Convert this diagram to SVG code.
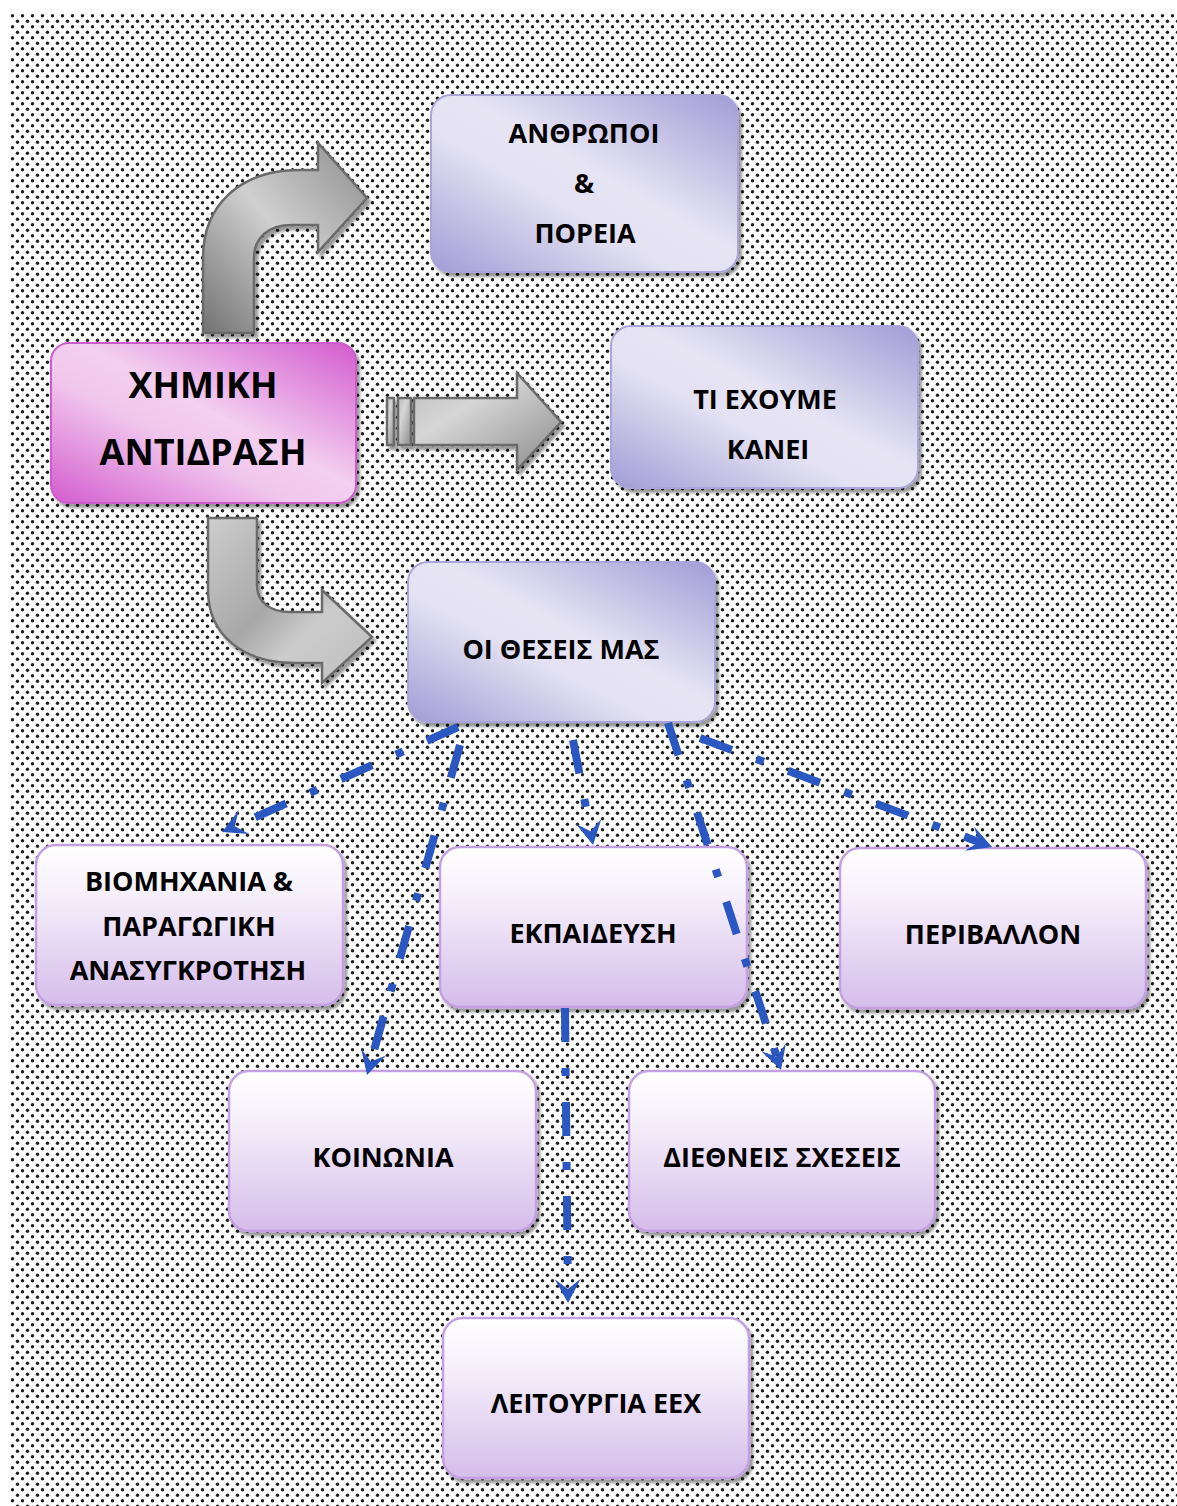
<svg xmlns="http://www.w3.org/2000/svg" width="1177" height="1506" viewBox="0 0 1177 1506">
<defs>
<pattern id="dots" x="10" y="13" width="10" height="11" patternUnits="userSpaceOnUse">
<circle cx="2.5" cy="2.75" r="1.7" fill="#1e1e1e"/>
<circle cx="7.5" cy="8.25" r="1.7" fill="#1e1e1e"/>
</pattern>
<filter id="sh" x="-10%" y="-10%" width="125%" height="130%">
<feDropShadow dx="3" dy="4" stdDeviation="1.5" flood-color="#000" flood-opacity="0.4"/>
</filter>
<linearGradient id="gPink" x1="1" y1="0" x2="0" y2="1">
<stop offset="0" stop-color="#d35bcf"/>
<stop offset="0.45" stop-color="#f3cff0"/>
<stop offset="0.6" stop-color="#f1c8ed"/>
<stop offset="1" stop-color="#d35bcf"/>
</linearGradient>
<linearGradient id="gLav" x1="1" y1="0" x2="0" y2="1">
<stop offset="0" stop-color="#a19cd6"/>
<stop offset="0.45" stop-color="#e7e5f4"/>
<stop offset="0.6" stop-color="#e3e1f2"/>
<stop offset="1" stop-color="#a19cd6"/>
</linearGradient>
<linearGradient id="gLow" x1="0" y1="0" x2="0" y2="1">
<stop offset="0" stop-color="#ffffff"/>
<stop offset="0.3" stop-color="#f6f0fb"/>
<stop offset="1" stop-color="#d5bdea"/>
</linearGradient>
<linearGradient id="gArrTop" x1="0" y1="1" x2="1" y2="0">
<stop offset="0" stop-color="#727272"/>
<stop offset="0.5" stop-color="#d0d0d0"/>
<stop offset="1" stop-color="#8c8c8c"/>
</linearGradient>
<linearGradient id="gArrMid" x1="0" y1="0" x2="1" y2="1">
<stop offset="0" stop-color="#bdbdbd"/>
<stop offset="0.35" stop-color="#d6d6d6"/>
<stop offset="1" stop-color="#8a8a8a"/>
</linearGradient>
<linearGradient id="gArrBot" x1="0" y1="0" x2="1" y2="1">
<stop offset="0" stop-color="#cdcdcd"/>
<stop offset="0.45" stop-color="#a8a8a8"/>
<stop offset="0.65" stop-color="#cccccc"/>
<stop offset="1" stop-color="#bdbdbd"/>
</linearGradient>
<marker id="ah" markerUnits="userSpaceOnUse" markerWidth="40" markerHeight="40" viewBox="-20 -20 40 40" refX="0" refY="0" orient="auto" overflow="visible">
<path d="M12,0 L-12,-13 L-2,0 L-12,13 Z" fill="#2a57c2"/>
</marker>
<style>
.pink{fill:url(#gPink);stroke:#cc5ccb;stroke-width:2;filter:url(#sh)}
.lav{fill:url(#gLav);stroke:#a9a4da;stroke-width:2;filter:url(#sh)}
.low{fill:url(#gLow);stroke:#c49fe2;stroke-width:2.5;filter:url(#sh)}
.t{font-family:"Open Sans","Noto Sans","DejaVu Sans",sans-serif;font-weight:bold;fill:#000;text-anchor:middle}
.big{font-size:36px}
.sm{font-size:27px}
.conn{fill:none;stroke:#2a57c2;stroke-width:8;stroke-dasharray:34 26 8 26;marker-end:url(#ah)}
.garr{stroke:#6b6b6b;stroke-width:2.5;stroke-linejoin:miter;filter:url(#sh)}
</style>
</defs>
<rect x="0" y="0" width="1177" height="1506" fill="#ffffff"/>
<rect x="10" y="13" width="1167" height="1493" fill="url(#dots)"/>

<g id="node-chemical-reaction">
<rect class="pink" x="51" y="343" width="305" height="160" rx="18"/>
<text class="t big" x="203" y="398">ΧΗΜΙΚΗ</text>
<text class="t big" x="203" y="465">ΑΝΤΙΔΡΑΣΗ</text>
</g>
<g id="node-people">
<rect class="lav" x="431" y="95" width="307" height="177" rx="20"/>
<text class="t sm" x="584" y="143">ΑΝΘΡΩΠΟΙ</text>
<text class="t sm" x="584" y="193">&amp;</text>
<text class="t sm" x="585" y="243">ΠΟΡΕΙΑ</text>
</g>
<g id="node-what-done">
<rect class="lav" x="611" y="326" width="307" height="162" rx="20"/>
<text class="t sm" x="765" y="409">ΤΙ ΕΧΟΥΜΕ</text>
<text class="t sm" x="768" y="459">ΚΑΝΕΙ</text>
</g>
<g id="node-positions">
<rect class="lav" x="408" y="562" width="307" height="160" rx="20"/>
<text class="t sm" x="561" y="659">ΟΙ ΘΕΣΕΙΣ ΜΑΣ</text>
</g>
<g id="node-industry">
<rect class="low" x="36" y="845" width="307" height="160" rx="20"/>
<text class="t sm" x="189" y="891">ΒΙΟΜΗΧΑΝΙΑ &amp;</text>
<text class="t sm" x="189" y="936">ΠΑΡΑΓΩΓΙΚΗ</text>
<text class="t sm" x="188" y="980">ΑΝΑΣΥΓΚΡΟΤΗΣΗ</text>
</g>
<g id="node-education">
<rect class="low" x="440" y="847" width="307" height="160" rx="20"/>
<text class="t sm" x="593" y="943">ΕΚΠΑΙΔΕΥΣΗ</text>
</g>
<g id="node-environment">
<rect class="low" x="840" y="848" width="306" height="160" rx="20"/>
<text class="t sm" x="993" y="944">ΠΕΡΙΒΑΛΛΟΝ</text>
</g>
<g id="node-society">
<rect class="low" x="229" y="1071" width="307" height="160" rx="20"/>
<text class="t sm" x="383" y="1167">ΚΟΙΝΩΝΙΑ</text>
</g>
<g id="node-international">
<rect class="low" x="629" y="1071" width="306" height="160" rx="20"/>
<text class="t sm" x="782" y="1167">ΔΙΕΘΝΕΙΣ ΣΧΕΣΕΙΣ</text>
</g>
<g id="node-eec">
<rect class="low" x="443" y="1318" width="306" height="160" rx="20"/>
<text class="t sm" x="596" y="1413">ΛΕΙΤΟΥΡΓΙΑ ΕΕΧ</text>
</g>

<g id="connectors">
<path class="garr" fill="url(#gArrTop)" d="M203,333 L203,258 C203,205 240,170 300,170 L318,170 L318,143 L367,198 L318,252 L318,225 L292,225 C268,225 254,238 254,258 L254,333 Z"/>
<g class="garr">
<rect x="387" y="398" width="7" height="47" fill="url(#gArrMid)" stroke="#6b6b6b" stroke-width="2.5"/>
<rect x="398" y="398" width="13" height="47" fill="url(#gArrMid)" stroke="#6b6b6b" stroke-width="2.5"/>
<path fill="url(#gArrMid)" stroke="#6b6b6b" stroke-width="2.5" d="M414,398 L517,398 L517,373 L561,422 L517,470 L517,445 L414,445 Z"/>
</g>
<path class="garr" fill="url(#gArrBot)" d="M208,518 L257,518 L257,585 C257,602 270,612 290,612 L322,612 L322,590 L372,637 L322,683 L322,663 L295,663 C243,663 208,635 208,590 Z"/>
<path class="conn" d="M458,727 L233,827.1"/>
<path class="conn" d="M460,745 L370.3,1063.5"/>
<path class="conn" d="M573,740 L590.8,833.2"/>
<path class="conn" d="M668,723 L777.3,1058.6"/>
<path class="conn" d="M700,738 L980.8,842.8"/>
<path class="conn" d="M565,1008 L567.9,1291"/>
</g>
</svg>
